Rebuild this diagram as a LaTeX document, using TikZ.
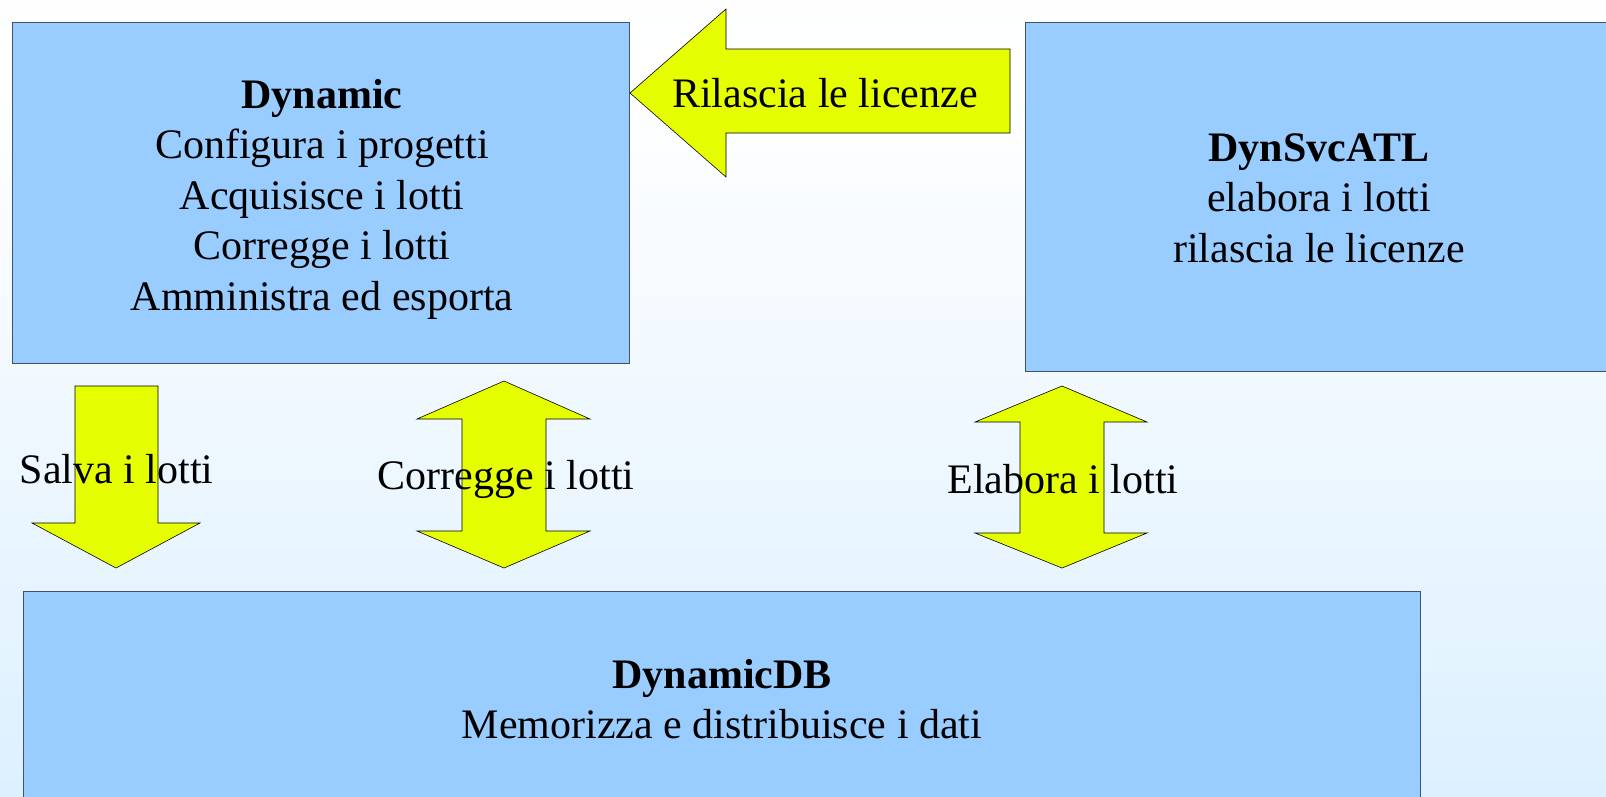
\documentclass[tikz,border=0pt]{standalone}
\usepackage{fontspec}
\setmainfont{Liberation Serif}
\definecolor{boxblue}{HTML}{99CCFF}
\definecolor{boxline}{HTML}{3D546C}
\definecolor{arrowyellow}{HTML}{E6FF00}
\definecolor{bga}{HTML}{CDE9FF}
\definecolor{bgb}{HTML}{D3ECFF}
\definecolor{bgc}{HTML}{E8F5FF}
\definecolor{bgd}{HTML}{F2F9FF}
\definecolor{bge}{HTML}{FFFFFF}
\definecolor{bgf}{HTML}{F8FBFF}
\pgfdeclareverticalshading{bgshade}{100bp}{color(0bp)=(bga); color(12bp)=(bgb); color(40bp)=(bgc); color(52bp)=(bgd); color(70bp)=(bge); color(100bp)=(bgf)}
\begin{document}
\begin{tikzpicture}[x=1pt,y=-1pt,
  box/.style={draw=boxline, line width=1pt, fill=boxblue, anchor=north west, inner sep=0pt},
  blockarrow/.style={draw=black, line width=0.6pt, fill=arrowyellow, line join=miter},
  txt/.style={anchor=base, inner sep=0pt, font=\fontsize{42}{50}\selectfont},
  btxt/.style={txt, font=\fontsize{42}{50}\selectfont\bfseries}]
\clip (0,0) rectangle (1606,796);
\useasboundingbox (0,0) rectangle (1606,796);
\shade[shading=bgshade] (0,0) rectangle (1606,796);

% boxes
\node[box, minimum width=617pt, minimum height=341pt] (dyn) at (12,22) {};
\node[box, minimum width=600pt, minimum height=349pt] (svc) at (1025,22) {};
\node[box, minimum width=1397pt, minimum height=230pt] (db) at (23,591) {};

% block arrows
\draw[blockarrow] (630,93) -- (726,9) -- (726,49) -- (1010,49) -- (1010,133) -- (726,133) -- (726,177) -- cycle;
\draw[blockarrow] (75,386) -- (158,386) -- (158,523) -- (200,523) -- (116,568) -- (32,523) -- (75,523) -- cycle;
\draw[blockarrow] (504,381) -- (590,419) -- (546,419) -- (546,531) -- (590,531) -- (504,568) -- (417,531) -- (462,531) -- (462,419) -- (417,419) -- cycle;
\draw[blockarrow] (1062,386) -- (1147,422) -- (1104,422) -- (1104,533) -- (1147,533) -- (1062,568) -- (975,533) -- (1020,533) -- (1020,422) -- (975,422) -- cycle;

% Dynamic text
\node[btxt] (dyn1) at (322,108) {Dynamic};
\node[txt] (dyn2) at (322,158) {Configura i progetti};
\node[txt] (dyn3) at (322,209) {Acquisisce i lotti};
\node[txt] (dyn4) at (322,259) {Corregge i lotti};
\node[txt] (dyn5) at (322,310) {Amministra ed esporta};

% DynSvcATL text
\node[btxt] (svc1) at (1319,161) {DynSvcATL};
\node[txt] (svc2) at (1319,211) {elabora i lotti};
\node[txt] (svc3) at (1319,262) {rilascia le licenze};

% DynamicDB text
\node[btxt] (db1) at (722,688) {DynamicDB};
\node[txt] (db2) at (722,738) {Memorizza e distribuisce i dati};

% arrow labels
\node[txt] (lrel) at (825,107) {Rilascia le licenze};
\node[txt] (lsal) at (116.5,483) {Salva i lotti};
\node[txt] (lcor) at (506,489) {Corregge i lotti};
\node[txt] (lela) at (1063,493) {Elabora i lotti};
\end{tikzpicture}
\end{document}
